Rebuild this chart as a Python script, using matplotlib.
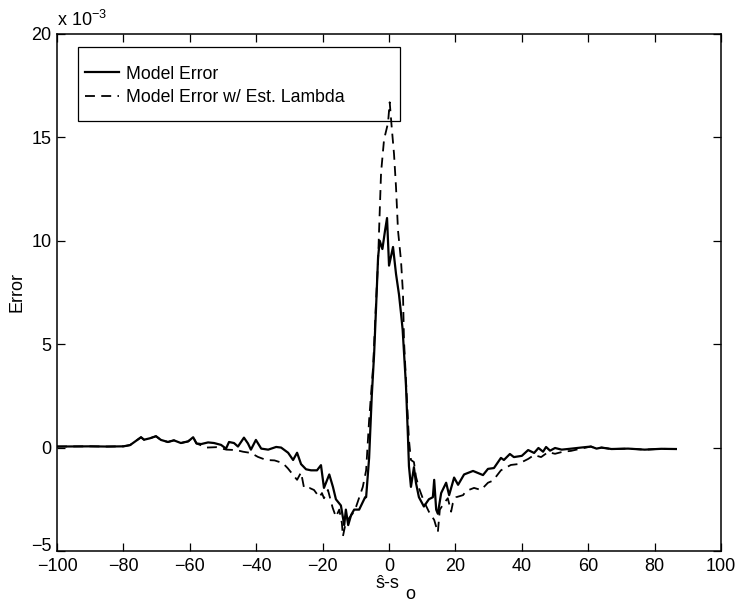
import matplotlib
matplotlib.use("Agg")
import matplotlib.pyplot as plt
from matplotlib.patches import Rectangle
from matplotlib.ticker import FixedLocator, FixedFormatter, MultipleLocator, FuncFormatter

plt.rcParams['font.family'] = ['Liberation Sans', 'DejaVu Sans']
plt.rcParams['mathtext.fontset'] = 'custom'
plt.rcParams['mathtext.rm'] = 'Liberation Sans'
plt.rcParams['mathtext.it'] = 'Liberation Sans'

# values in units of 1e-3
x_model = [-100, -90, -85, -80, -78, -76, -74.7, -73.8, -72, -70.2, -68.7, -66.6, -64.8,
           -62.7, -60.5, -59, -58, -56.6, -54.5, -52.7, -50.6, -49.1, -48.2, -46.7, -45.5,
           -43.7, -42.5, -41.6, -40.1, -38.5, -36.4, -34, -32.5, -30.4, -28.9, -27.7, -26.5,
           -25, -23.5, -21.7, -20.5, -19.6, -18, -16.9, -16, -14.5, -13.5, -13, -12.3, -11.4,
           -10.5, -9, -7.2, -6.9, -6, -5.2, -4.5, -3.9, -3.3, -2.8, -2, -1.2, -0.6, 0, 1.2,
           2.1, 3.0, 3.6, 4.1, 5.1, 5.7, 6.0, 6.6, 7.5, 8.1, 9, 10.5, 12, 13.2, 13.6, 14.2,
           14.7, 15.7, 17.2, 18.1, 19.6, 20.8, 22.6, 25.3, 28.3, 29.8, 31.6, 33.7, 34.6, 36.4,
           37.6, 40, 41.9, 43.7, 45.0, 46.4, 47.3, 48.5, 50, 52, 55, 57.8, 60.8, 62.5, 64, 67,
           72, 77, 82, 86.4]
y_model = [0.05, 0.06, 0.05, 0.06, 0.12, 0.35, 0.5, 0.38, 0.45, 0.55, 0.37, 0.27, 0.35,
           0.22, 0.3, 0.5, 0.2, 0.17, 0.25, 0.22, 0.13, -0.05, 0.27, 0.22, 0.05,
           0.48, 0.2, -0.1, 0.37, -0.05, -0.1, 0.03, 0.0, -0.25, -0.6, -0.25, -0.8,
           -1.05, -1.1, -1.1, -0.85, -1.95, -1.3, -1.9, -2.5, -2.8, -3.75, -3.0, -3.75, -3.25,
           -3.0, -3.0, -2.4, -2.4, -0.5, 2.5, 4.5, 6.8, 9.2, 10.0, 9.6, 10.5, 11.1, 8.8, 9.7,
           8.4, 7.4, 6.5, 5.7, 3.0, 0.5, -0.9, -1.9, -0.95, -1.7, -2.4, -2.85, -2.5, -2.4, -1.56, -3.0,
           -3.2, -2.2, -1.7, -2.3, -1.45, -1.8, -1.3, -1.13, -1.33, -1.03, -0.99, -0.5, -0.6, -0.31,
           -0.46, -0.4, -0.12, -0.26, -0.02, -0.2, 0.03, -0.15, -0.02, -0.1, -0.05, 0.0, 0.05, -0.05, 0.0, -0.07,
           -0.05, -0.1, -0.06, -0.07]

x_est = [-100, -90, -85, -80, -78, -76, -74.7, -73.8, -72, -70.2, -68.7, -66.6, -64.8,
         -62.7, -60.5, -59, -58, -55, -52, -49, -46, -44, -41.6, -39.5, -37, -34.5, -32,
         -30.5, -29, -27.7, -26.5, -25.6, -24, -22.6, -21, -20.2, -19.6, -18.4, -17, -16, -15,
         -14.2, -13.9, -13, -12, -11, -9.9, -7.9, -6.9, -6, -4.8, -3.9, -3.3, -3.0, -2.4, -1.5,
         -0.3, 0.2, 0.8, 1.5, 2.1, 2.7, 3.6, 4.2, 4.5, 5.1, 5.7, 6.0, 6.6, 7.5, 8.1, 9, 10.5,
         12, 13.6, 14.7, 15.3, 16.5, 17.7, 18.7, 19.2, 20.2, 22.3, 23.2, 25.6, 27.7, 29.8,
         31.3, 33.7, 36.7, 38.8, 41.9, 43.7, 45.8, 47.9, 50, 52.4, 54.8, 57.8, 60.8, 62.5, 64,
         67, 72, 77, 82, 86.4]
y_est = [0.05, 0.06, 0.05, 0.06, 0.12, 0.35, 0.5, 0.38, 0.45, 0.55, 0.37, 0.27, 0.35,
         0.22, 0.3, 0.5, 0.2, 0.0, 0.02, -0.1, -0.12, -0.2, -0.26, -0.45, -0.6, -0.62, -0.75,
         -1.0, -1.3, -1.56, -1.2, -1.95, -1.95, -2.05, -2.4, -2.2, -2.45, -2.05, -2.9, -3.35, -3.0,
         -3.65, -4.3, -3.6, -3.4, -3.2, -2.85, -1.9, -1.1, 1.33, 3.9, 7.1, 9.05, 10.5, 13.3, 14.9,
         15.7, 16.7, 15.5, 14.2, 12.6, 10.5, 9.05, 7.45, 5.2, 3.26, 1.33, 0.37, -0.6, -0.7, -1.4, -1.95, -2.6,
         -3.1, -3.5, -4.1, -3.0, -2.7, -2.45, -3.1, -2.7, -2.4, -2.3, -2.1, -1.95, -2.05, -1.7,
         -1.6, -1.1, -0.84, -0.8, -0.55, -0.36, -0.46, -0.22, -0.3, -0.2, -0.16, -0.05, 0.05, -0.05, 0.0,
         -0.07, -0.05, -0.1, -0.06, -0.07]

labels = ['Model Error', 'Model Error w/ Est. Lambda']
y_ticks = [-5, 0, 5, 10, 15, 20]
scale = 1e-3
FS = 13

fig = plt.figure(figsize=(7.35, 6.07), dpi=100)
ax = fig.add_axes([0.0776, 0.0923, 0.9034, 0.8517])

ax.plot(x_model, [v * scale for v in y_model], color='black', lw=1.6,
        label=labels[0], zorder=3)
ax.plot(x_est, [v * scale for v in y_est], color='black', lw=1.3,
        linestyle=(0, (5.5, 3.5)), label=labels[1], zorder=3)

ax.set_xlim(-100, 100)
ax.set_ylim(-5e-3, 20e-3)
ax.xaxis.set_major_locator(MultipleLocator(20))
ax.xaxis.set_major_formatter(FuncFormatter(lambda v, p: ('%d' % round(v)).replace('-', '\u2212')))
ax.yaxis.set_major_locator(FixedLocator([t * scale for t in y_ticks]))
ylabels = [('' if t == -5 else str(t)) for t in y_ticks]
ax.yaxis.set_major_formatter(FixedFormatter(ylabels))
ax.tick_params(direction='in', top=True, right=True, length=6, width=0.9,
               labelsize=FS, colors='black')
ax.tick_params(axis='x', pad=5)
ax.tick_params(axis='y', pad=4)
for s in ax.spines.values():
    s.set_linewidth(1.1)

# bottom y tick label, nudged upward so it clears the -100 label
ax.annotate('\u22125', xy=(0, 0), xycoords='axes fraction', xytext=(-4, 3),
            textcoords='offset points', ha='right', va='center', fontsize=FS)

ax.text(0.0, 1.008, 'x 10$^{\u22123}$', transform=ax.transAxes, fontsize=FS,
        ha='left', va='bottom')

# x label: s-hat minus s with subscript o
ax.text(0.497, -0.047, '\u015d-s', transform=ax.transAxes, fontsize=FS,
        ha='center', va='top')
ax.text(0.525, -0.093, 'o', transform=ax.transAxes, fontsize=FS,
        ha='left', va='baseline')

ax.set_ylabel('Error', fontsize=FS)
ax.yaxis.set_label_coords(-0.047, 0.5)

# legend (frame drawn separately to match the reference box)
leg = ax.legend(loc='upper left', bbox_to_anchor=(0.0422, 0.939),
                fontsize=12.7, frameon=False,
                handlelength=1.9, borderpad=0.0, labelspacing=0.38, handletextpad=0.4,
                borderaxespad=0)
ax.add_patch(Rectangle((0.0316, 0.8314), 0.485, 0.1434, transform=ax.transAxes,
                       fill=False, edgecolor='black', lw=0.9, clip_on=False, zorder=4))

fig.savefig('out.png', dpi=100)
